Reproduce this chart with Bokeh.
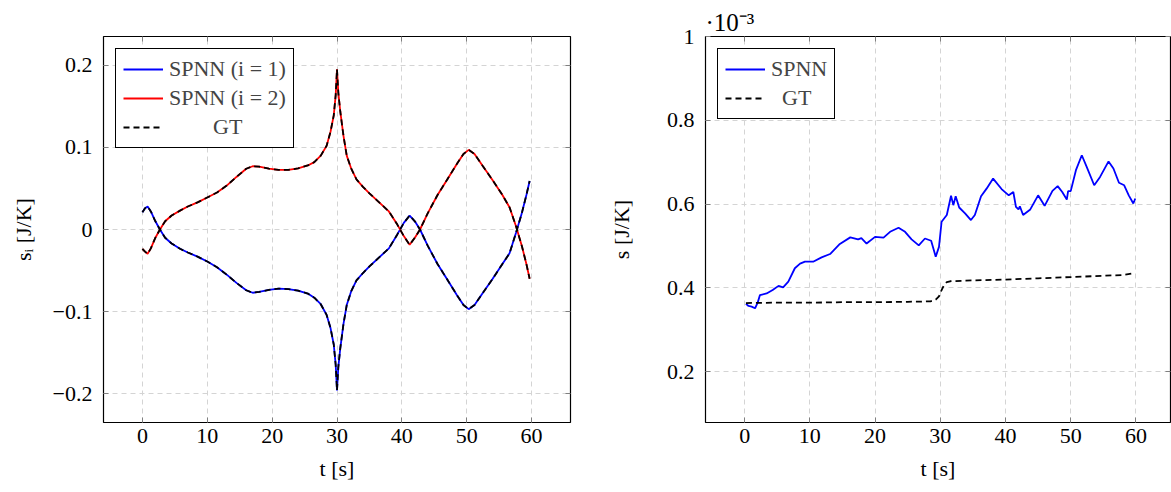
from bokeh.plotting import figure
from bokeh.layouts import row
from bokeh.models import (Range1d, FixedTicker, CustomJSTickFormatter, LinearAxis,
                          Legend, LegendItem, Title)
from bokeh.embed import file_html
from bokeh.resources import INLINE

FONT = "Liberation Serif"
FS = "22px"

# ---------------- data: left panel (s_i in J/K) ----------------
t_left = [0, 0.4, 0.8, 1.3, 2.0, 2.7, 3.5, 4.5, 5.8, 7, 8.5, 10, 11.5, 13, 14.5, 16, 17, 18,
          19.5, 21, 22.5, 24, 25.5, 26.5, 27.5, 28.4, 29.0, 29.5, 29.8, 30.0, 30.2, 30.5, 31.0,
          31.5, 32.2, 33, 34, 35, 36.5, 38, 39.3, 40.3, 41.2, 42, 42.8, 44, 45.5, 47, 48.5,
          49.5, 50.3, 51.2, 52.5, 54, 55.5, 56.6, 57.6, 58.5, 59.2, 59.7]
s1_spnn = [0.021, 0.026, 0.028, 0.022, 0.010, 0.0, -0.010, -0.017, -0.0235, -0.028, -0.033,
           -0.039, -0.046, -0.055, -0.065, -0.074, -0.077, -0.076, -0.0735, -0.072, -0.0725,
           -0.0745, -0.078, -0.083, -0.091, -0.104, -0.120, -0.140, -0.165, -0.196, -0.168,
           -0.145, -0.115, -0.092, -0.075, -0.062, -0.053, -0.045, -0.034, -0.023, -0.006,
           0.008, 0.017, 0.010, 0.0, -0.020, -0.042, -0.061, -0.080, -0.092, -0.097, -0.092,
           -0.077, -0.060, -0.042, -0.029, -0.004, 0.020, 0.042, 0.059]
s2_spnn = [-0.0235, -0.027, -0.0296, -0.023, -0.010, 0.0, 0.010, 0.017, 0.023, 0.028, 0.033,
           0.039, 0.045, 0.0535, 0.064, 0.074, 0.077, 0.0765, 0.074, 0.0725, 0.0725,
           0.0745, 0.078, 0.082, 0.090, 0.102, 0.119, 0.139, 0.164, 0.195, 0.167,
           0.144, 0.114, 0.090, 0.074, 0.061, 0.052, 0.044, 0.033, 0.022, 0.006,
           -0.008, -0.0186, -0.010, 0.0, 0.020, 0.042, 0.061, 0.080, 0.092, 0.097, 0.092,
           0.077, 0.060, 0.042, 0.027, 0.004, -0.020, -0.042, -0.060]
s1_gt = [0.021, 0.026, 0.028, 0.022, 0.010, 0.0, -0.010, -0.017, -0.0235, -0.028, -0.033,
         -0.039, -0.046, -0.055, -0.065, -0.074, -0.077, -0.076, -0.0735, -0.072, -0.0725,
         -0.0745, -0.078, -0.083, -0.091, -0.104, -0.120, -0.140, -0.165, -0.196, -0.168,
         -0.145, -0.115, -0.092, -0.075, -0.062, -0.053, -0.045, -0.034, -0.023, -0.006,
         0.008, 0.017, 0.010, 0.0, -0.020, -0.042, -0.061, -0.080, -0.092, -0.097, -0.092,
         -0.077, -0.060, -0.042, -0.029, -0.004, 0.020, 0.042, 0.059]
s2_gt = [-0.0235, -0.027, -0.0296, -0.023, -0.010, 0.0, 0.010, 0.017, 0.023, 0.028, 0.033,
         0.039, 0.045, 0.0535, 0.064, 0.074, 0.077, 0.0765, 0.074, 0.0725, 0.0725,
         0.0745, 0.078, 0.082, 0.090, 0.102, 0.119, 0.139, 0.164, 0.195, 0.167,
         0.144, 0.114, 0.090, 0.074, 0.061, 0.052, 0.044, 0.033, 0.022, 0.006,
         -0.008, -0.0186, -0.010, 0.0, 0.020, 0.042, 0.061, 0.080, 0.092, 0.097, 0.092,
         0.077, 0.060, 0.042, 0.027, 0.004, -0.020, -0.042, -0.060]

# ---------------- data: right panel (s in 1e-3 J/K) ----------------
t_right = [0.2, 0.6, 1.07, 1.6, 2.0, 2.35, 3.37, 4.3, 5.2, 5.9, 6.7, 7.7, 8.5, 9.25, 10.5, 11.8,
           13.1, 14.6, 16.2, 17.4, 17.9, 18.7, 20.0, 21.3, 22.3, 23.6, 24.6, 25.6, 26.7,
           27.65, 28.6, 29.3, 29.8, 30.2, 31.0, 31.65, 32.0, 32.36, 32.9, 33.8, 34.7, 35.3,
           36.25, 37.1, 38.1, 39.4, 40.5, 41.2, 41.6, 42.0, 42.2, 42.7, 43.8, 45.0, 46.0,
           47.2, 48.0, 48.7, 49.4, 49.6, 50.0, 50.8, 51.7, 52.45, 53.6, 54.5, 55.8, 56.55,
           57.4, 58.2, 58.9, 59.6, 59.9]
s_spnn = [0.362, 0.357, 0.3555, 0.3516, 0.365, 0.383, 0.387, 0.395, 0.405, 0.4016, 0.415,
          0.447, 0.458, 0.4627, 0.4627, 0.473, 0.481, 0.505, 0.5207, 0.516, 0.519, 0.506,
          0.522, 0.520, 0.534, 0.5436, 0.534, 0.516, 0.5017, 0.518, 0.5126, 0.4745, 0.498,
          0.558, 0.574, 0.620, 0.5976, 0.619, 0.592, 0.578, 0.562, 0.574, 0.619, 0.637,
          0.661, 0.636, 0.621, 0.629, 0.5936, 0.5874, 0.595, 0.574, 0.5874, 0.621, 0.596,
          0.6317, 0.643, 0.629, 0.611, 0.631, 0.631, 0.681, 0.7167, 0.689, 0.645, 0.665,
          0.702, 0.685, 0.651, 0.645, 0.621, 0.6016, 0.6135]
t_gt = [0.2, 5, 10, 15, 20, 25, 28.5, 29.3, 29.8, 30.2, 30.6, 31.0, 31.5, 35, 40, 45, 50, 55,
        58, 59.5]
s_gt = [0.364, 0.365, 0.365, 0.366, 0.366, 0.367, 0.368, 0.372, 0.380, 0.395, 0.408, 0.414,
        0.416, 0.418, 0.420, 0.423, 0.426, 0.429, 0.431, 0.435]

x_ticks = [0, 10, 20, 30, 40, 50, 60]
y_ticks_left = [-0.2, -0.1, 0, 0.1, 0.2]
y_ticks_right = [0.2, 0.4, 0.6, 0.8, 1.0]


def blank():
    return CustomJSTickFormatter(code="return '';")


def style_axis(ax, show_labels=True):
    ax.axis_line_color = None
    ax.major_tick_in = 5
    ax.major_tick_out = 0
    ax.minor_tick_line_color = None
    ax.major_tick_line_color = "#7f7f7f"
    ax.major_tick_line_width = 1
    ax.major_label_text_font = FONT
    ax.major_label_text_color = "black"
    ax.axis_label_text_font = FONT
    ax.axis_label_text_font_size = FS
    ax.axis_label_text_font_style = "normal"
    ax.axis_label_text_color = "black"
    if show_labels:
        ax.major_label_text_font_size = FS
    else:
        ax.major_label_text_font_size = "0px"
        ax.major_label_standoff = 0


def make_fig(width, x_end, y_range, y_ticks, y_fmt, border_left, border_right, ylab, ylab_standoff):
    p = figure(width=width, height=483, x_range=Range1d(-6, x_end), y_range=y_range,
               output_backend="svg", toolbar_location=None,
               min_border_left=border_left, min_border_right=border_right,
               min_border_top=36, min_border_bottom=60)
    p.background_fill_color = "white"
    p.border_fill_color = "white"
    p.outline_line_color = "black"
    p.outline_line_width = 1.2
    p.xaxis.ticker = FixedTicker(ticks=x_ticks)
    p.yaxis.ticker = FixedTicker(ticks=y_ticks)
    p.yaxis.formatter = y_fmt
    for ax in p.xaxis:
        style_axis(ax)
        ax.major_label_standoff = 6
        ax.axis_label = "t [s]"
        ax.axis_label_standoff = 10
    for ax in p.yaxis:
        style_axis(ax)
        ax.major_label_standoff = 11
        ax.axis_label = ylab
        ax.axis_label_standoff = ylab_standoff
    top = LinearAxis(ticker=FixedTicker(ticks=x_ticks), formatter=blank())
    style_axis(top, False)
    p.add_layout(top, "above")
    right = LinearAxis(ticker=FixedTicker(ticks=y_ticks), formatter=blank())
    style_axis(right, False)
    p.add_layout(right, "right")
    for g in (p.xgrid, p.ygrid):
        g.grid_line_color = "#d4d4d4"
        g.grid_line_dash = "5 4"
        g.grid_line_width = 1
    p.xgrid.ticker = FixedTicker(ticks=x_ticks)
    p.ygrid.ticker = FixedTicker(ticks=y_ticks)
    return p


def style_legend(lg):
    lg.location = "top_left"
    lg.margin = 12
    lg.padding = 7
    lg.spacing = 3
    lg.glyph_width = 40
    lg.glyph_height = 26
    lg.label_height = 26
    lg.label_standoff = 6
    lg.label_text_font = FONT
    lg.label_text_font_size = FS
    lg.border_line_color = "black"
    lg.border_line_width = 1.2
    lg.border_line_alpha = 1
    lg.background_fill_alpha = 1


# ---------------- left panel ----------------
fmt_left = CustomJSTickFormatter(code="""
if (Math.abs(tick) < 1e-9) { return "0"; }
const s = Math.abs(tick).toFixed(1);
return (tick < 0 ? "\u2212" : "") + s;
""")
p1 = make_fig(580, 66, Range1d(-0.235, 0.235), y_ticks_left, fmt_left, 103, 10,
              "s\u1d62 [J/K]", 14)
r1 = p1.line(t_left, s1_spnn, line_color="#0000ff", line_width=1.8)
r2 = p1.line(t_left, s2_spnn, line_color="#ff0000", line_width=1.8)
g1 = p1.line(t_left, s1_gt, line_color="black", line_width=1.8, line_dash="6 4")
g2 = p1.line(t_left, s2_gt, line_color="black", line_width=1.8, line_dash="6 4")
leg1 = Legend(items=[LegendItem(label="SPNN (i = 1)", renderers=[r1]),
                     LegendItem(label="SPNN (i = 2)", renderers=[r2]),
                     LegendItem(label="\u00a0" * 8 + "GT", renderers=[g1])])
style_legend(leg1)
p1.add_layout(leg1)

# ---------------- right panel ----------------
fmt_right = CustomJSTickFormatter(code="""
if (Math.abs(tick - 1) < 1e-9) { return "1"; }
return tick.toFixed(1);
""")
p2 = make_fig(591, 65.3, Range1d(0.079, 1.0), y_ticks_right, fmt_right, 125, 1,
              "s [J/K]", 30)
r3 = p2.line(t_right, s_spnn, line_color="#0000ff", line_width=1.8)
g3 = p2.line(t_gt, s_gt, line_color="black", line_width=1.8, line_dash="6 4")
leg2 = Legend(items=[LegendItem(label="SPNN", renderers=[r3]),
                     LegendItem(label="\u00a0\u00a0" + "GT", renderers=[g3])])
style_legend(leg2)
p2.add_layout(leg2)
exp_title = Title(text="\u00b710\u207b\u00b3", align="left", offset=0, standoff=2,
                  text_font=FONT, text_font_size="25px", text_font_style="normal",
                  text_color="black")
p2.add_layout(exp_title, "above")

layout = row(p1, p2)
open("out.html", "w").write(file_html(layout, INLINE))
